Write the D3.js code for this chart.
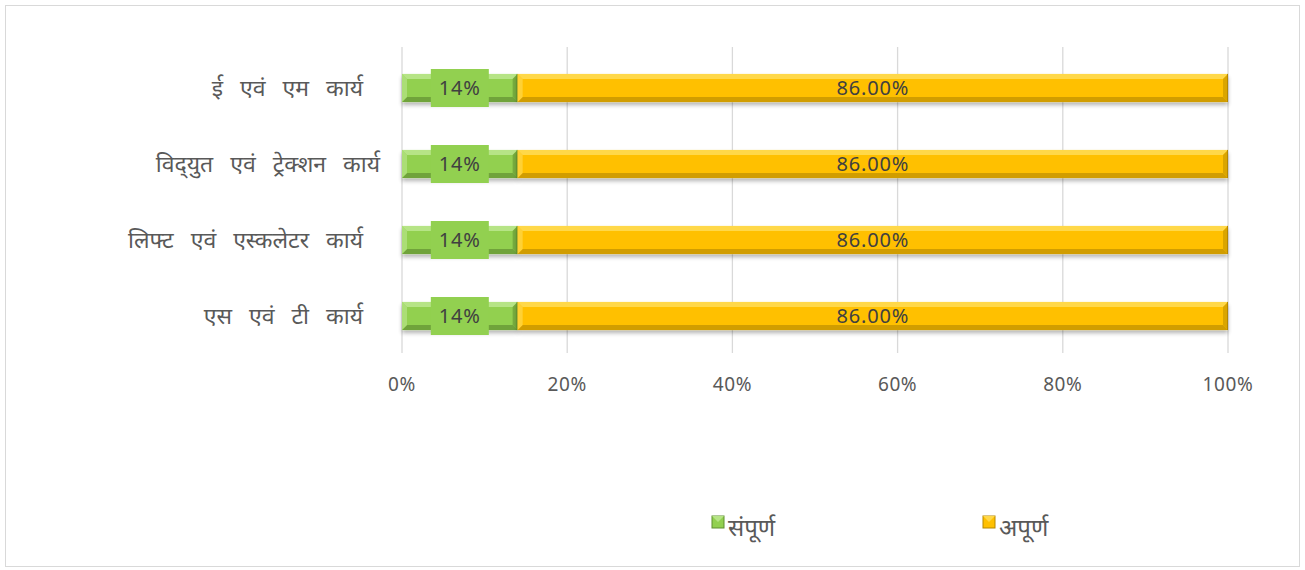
<!DOCTYPE html>
<html>
<head>
<meta charset="utf-8">
<title>कार्य प्रगति</title>
<style>
body { margin: 0; background: #fff; }
svg text { font-family: "Noto Sans", "Open Sans", sans-serif; fill: #595959; }
.cat { white-space: pre; word-spacing: 11px; }
</style>
</head>
<body>
<svg id="chart" width="1305" height="570"></svg>
<script src="https://d3js.org/d3.v7.min.js"></script>
<script>
var categories = ["ई एवं एम कार्य ", "विद्\u200Cयुत एवं ट्रेक्शन कार्य", "लिफ्ट एवं एस्कलेटर कार्य ", "एस एवं टी कार्य "]
var complete = [14, 14, 14, 14]
var incomplete = [86, 86, 86, 86]
var seriesNames = ["संपूर्ण", "अपूर्ण"]
var ticks = [0, 20, 40, 60, 80, 100]

var colors = [
  {base: "#92d050", light: "#b6e486", dark: "#6fa33a", edge: "#5f8f2f"},
  {base: "#ffc000", light: "#ffd84a", dark: "#d19d00", edge: "#b58800"}
]

var svg = d3.select("#chart")

// outer frame
svg.append("rect")
  .attr("x", 5.5).attr("y", 5.5)
  .attr("width", 1294).attr("height", 561)
  .attr("fill", "#fff").attr("stroke", "#d9d9d9")

var x = d3.scaleLinear().domain([0, 100]).range([402, 1228])
var y = d3.scaleBand().domain(categories).range([50, 354]).paddingInner(0.63).paddingOuter(0.315)

// grid
svg.append("g").selectAll("line").data(ticks).enter().append("line")
  .attr("x1", function(d) { return x(d) }).attr("x2", function(d) { return x(d) })
  .attr("y1", 47).attr("y2", 353)
  .attr("stroke", "#d9d9d9").attr("stroke-width", 1.3)

// tick labels
svg.append("g").selectAll("text").data(ticks).enter().append("text")
  .attr("x", function(d) { return x(d) })
  .attr("y", 391)
  .attr("text-anchor", "middle")
  .attr("font-size", 19)
  .style("letter-spacing", "0.6px")
  .text(function(d) { return d + "%" })

// category labels
svg.append("g").selectAll("text").data(categories).enter().append("text")
  .attr("class", "cat")
  .attr("x", 380)
  .attr("y", function(d) { return y(d) + y.bandwidth() / 2 + 8 })
  .attr("text-anchor", "end")
  .attr("font-size", 23)
  .text(function(d) { return d })

var segs = []
categories.forEach(function(c, i) {
  segs.push({cat: c, s: 0, x0: 0, x1: complete[i], v: complete[i]})
  segs.push({cat: c, s: 1, x0: complete[i], x1: complete[i] + incomplete[i], v: incomplete[i]})
})

var defs = svg.append("defs")
var sh = defs.append("filter").attr("id", "shadow").attr("x", "-5%").attr("y", "-30%").attr("width", "110%").attr("height", "180%")
sh.append("feGaussianBlur").attr("in", "SourceAlpha").attr("stdDeviation", 2)
sh.append("feOffset").attr("dy", 3).attr("result", "b")
sh.append("feComponentTransfer").append("feFuncA").attr("type", "linear").attr("slope", 0.3)
var m = sh.append("feMerge")
m.append("feMergeNode")
m.append("feMergeNode").attr("in", "SourceGraphic")

var bev = 5
var bars = svg.append("g").selectAll("g").data(segs).enter().append("g")
  .attr("filter", "url(#shadow)")

function pts(a) { return a.map(function(p) { return p.join(",") }).join(" ") }

bars.each(function(d) {
  var g = d3.select(this)
  var c = colors[d.s]
  var l = x(d.x0), r = x(d.x1), t = y(d.cat), b = t + y.bandwidth()
  g.append("rect").attr("x", l).attr("y", t).attr("width", r - l).attr("height", b - t).attr("fill", c.base)
  // top bevel
  g.append("polygon").attr("points", pts([[l, t], [r, t], [r - bev, t + bev], [l + bev, t + bev]])).attr("fill", c.light)
  // bottom bevel
  g.append("polygon").attr("points", pts([[l, b], [r, b], [r - bev, b - bev], [l + bev, b - bev]])).attr("fill", c.dark)
  // left bevel
  g.append("polygon").attr("points", pts([[l, t], [l + bev, t + bev], [l + bev, b - bev], [l, b]])).attr("fill", c.light).attr("opacity", 0.7)
  // right bevel
  g.append("polygon").attr("points", pts([[r, t], [r - bev, t + bev], [r - bev, b - bev], [r, b]])).attr("fill", c.dark).attr("opacity", 0.8)
  g.append("line").attr("x1", r - 0.5).attr("x2", r - 0.5).attr("y1", t).attr("y2", b).attr("stroke", c.edge)
})

// data labels
var lab = svg.append("g").selectAll("g").data(segs).enter().append("g")
lab.filter(function(d) { return d.s === 0 }).append("rect")
  .attr("x", function(d) { return (x(d.x0) + x(d.x1)) / 2 - 29 })
  .attr("y", function(d) { return y(d.cat) + y.bandwidth() / 2 - 19 })
  .attr("width", 58).attr("height", 38)
  .attr("fill", colors[0].base)
lab.append("text")
  .attr("x", function(d) { return (x(d.x0) + x(d.x1)) / 2 })
  .attr("y", function(d) { return y(d.cat) + y.bandwidth() / 2 + 7 })
  .attr("text-anchor", "middle")
  .attr("font-size", 20)
  .style("letter-spacing", "0.8px")
  .style("fill", "#404040")
  .text(function(d) { return d.s === 0 ? d.v + "%" : d.v.toFixed(2) + "%" })

// legend
var legX = [712, 983]
var leg = svg.append("g").selectAll("g").data(seriesNames).enter().append("g")
  .attr("transform", function(d, i) { return "translate(" + legX[i] + ",516)" })
leg.append("rect").attr("width", 12).attr("height", 12)
  .attr("fill", function(d, i) { return colors[i].base })
  .attr("stroke", function(d, i) { return colors[i].edge }).attr("stroke-width", 1)
leg.append("polygon").attr("points", "0,0 12,0 6,6")
  .attr("fill", function(d, i) { return colors[i].light })
leg.append("text").attr("x", 16).attr("y", 20)
  .attr("font-size", 24)
  .text(function(d) { return d })
</script>
</body>
</html>
